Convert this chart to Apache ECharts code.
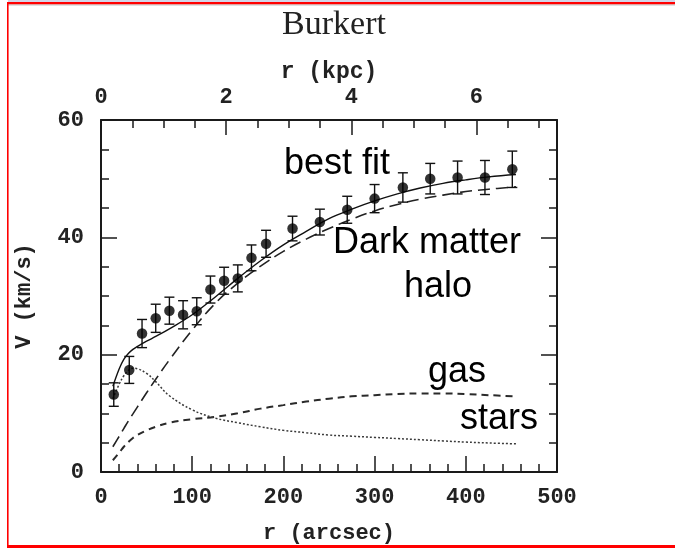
<!DOCTYPE html>
<html>
<head>
<meta charset="utf-8">
<script src="https://cdn.jsdelivr.net/npm/echarts@6/dist/echarts.min.js"></script>
<style>
  html, body { margin: 0; padding: 0; background: #fff; }
  #chart { width: 675px; height: 548px; }
</style>
</head>
<body>
<div id="chart"></div>
<script>
// Observed rotation curve: radius (arcsec), velocity (km/s), 1-sigma error
const obsRadius   = [14, 31, 45, 60, 75, 90, 105, 120, 135, 150, 165, 181, 210, 240, 270, 300, 331, 361, 391, 421, 451];
const obsVelocity = [13.2, 17.4, 23.6, 26.2, 27.5, 26.8, 27.4, 31.1, 32.6, 33.0, 36.5, 38.9, 41.5, 42.6, 44.7, 46.6, 48.5, 50.0, 50.2, 50.2, 51.6];
const obsError    = [2.0, 2.3, 2.4, 2.4, 2.3, 2.4, 2.3, 2.3, 2.3, 2.3, 2.2, 2.3, 2.1, 2.2, 2.3, 2.4, 2.5, 2.6, 2.8, 2.9, 3.1];

// Mass-model components on a common radius grid (arcsec)
const modelRadius = [13, 20, 25, 30, 35, 40, 50, 60, 75, 100, 125, 150, 175, 200, 225, 250, 275, 300, 325, 350, 375, 400, 425, 455];
const bestFit     = [14.6, 17.6, 19.2, 20.2, 20.9, 21.4, 22.3, 23.1, 24.4, 26.8, 29.8, 33.0, 36.0, 38.7, 41.0, 43.2, 44.8, 46.2, 47.4, 48.4, 49.2, 49.8, 50.3, 50.7];
const haloCurve   = [4.3, 6.1, 7.4, 8.7, 9.9, 11.1, 13.5, 15.8, 19.1, 24.2, 28.7, 32.2, 35.1, 37.6, 39.7, 41.5, 43.1, 44.5, 45.6, 46.5, 47.2, 47.8, 48.2, 48.6];
const gasCurve    = [2.0, 3.3, 4.3, 5.1, 5.8, 6.3, 7.1, 7.7, 8.4, 9.0, 9.4, 10.0, 10.8, 11.4, 12.0, 12.5, 12.9, 13.1, 13.3, 13.4, 13.4, 13.3, 13.1, 12.9];
const starsCurve  = [12.5, 15.0, 16.4, 17.3, 17.7, 17.6, 16.8, 15.4, 13.0, 10.6, 9.2, 8.4, 7.7, 7.1, 6.7, 6.3, 6.1, 5.9, 5.7, 5.5, 5.3, 5.1, 4.95, 4.8];

// Axis ranges and scale conversion
const xRange = [0, 500];
const yRange = [0, 60];
const arcsecPerKpc = 68.6;

const ink = '#1a1a1a';
const tickFont = { fontFamily: 'Liberation Mono', fontWeight: 'bold', fontSize: 22, color: '#222' };
const pairs = (xs, ys) => xs.map((x, i) => [x, ys[i]]);

const chart = echarts.init(document.getElementById('chart'), null, { renderer: 'canvas' });

const frameAxis = (extra) => Object.assign({
  type: 'value',
  splitLine: { show: false },
  axisLine: { show: true, onZero: false, lineStyle: { color: ink, width: 2 } },
  axisTick: { show: true, inside: true, length: 16, lineStyle: { color: ink, width: 1.5 } },
}, extra);

const option = {
  backgroundColor: '#fff',
  animation: false,
  grid: { left: 101, right: 118, top: 120, bottom: 76, containLabel: false, outerBoundsMode: 'none' },
  xAxis: [
    frameAxis({
      position: 'bottom', min: xRange[0], max: xRange[1], interval: 100,
      minorTick: { show: true, splitNumber: 5, length: 8, lineStyle: { color: ink, width: 1.5 } },
      axisLabel: Object.assign({ margin: 14 }, tickFont)
    }),
    frameAxis({
      position: 'top', min: 0, max: xRange[1] / arcsecPerKpc, interval: 2,
      axisTick: { show: true, inside: true, length: 15, lineStyle: { color: ink, width: 1.5 } },
      axisLabel: Object.assign({ margin: 12, showMaxLabel: false }, tickFont)
    }),
    frameAxis({
      position: 'top', min: 0, max: xRange[1] / arcsecPerKpc, interval: 0.5,
      axisLine: { show: false, onZero: false },
      axisTick: { show: true, inside: true, length: 8, lineStyle: { color: ink, width: 1.5 } },
      axisLabel: { show: false }
    })
  ],
  yAxis: [
    frameAxis({
      position: 'left', min: yRange[0], max: yRange[1], interval: 20,
      minorTick: { show: true, splitNumber: 4, length: 8, lineStyle: { color: ink, width: 1.5 } },
      axisLabel: Object.assign({ margin: 17 }, tickFont)
    }),
    frameAxis({
      position: 'right', min: yRange[0], max: yRange[1], interval: 20,
      minorTick: { show: true, splitNumber: 4, length: 8, lineStyle: { color: ink, width: 1.5 } },
      axisLabel: { show: false }
    })
  ],
  series: [
    {
      name: 'halo', type: 'line', data: pairs(modelRadius, haloCurve),
      smooth: 0.4, showSymbol: false, z: 2,
      lineStyle: { color: '#222', width: 1.6, type: [12, 6] }
    },
    {
      name: 'gas', type: 'line', data: pairs(modelRadius, gasCurve),
      smooth: 0.4, showSymbol: false, z: 2,
      lineStyle: { color: '#2a2a2a', width: 2, type: [7, 5] }
    },
    {
      name: 'stars', type: 'line', data: pairs(modelRadius, starsCurve),
      smooth: 0.4, showSymbol: false, z: 2,
      lineStyle: { color: '#3a3a3a', width: 1.5, type: [2, 2] }
    },
    {
      name: 'best fit', type: 'line', data: pairs(modelRadius, bestFit),
      smooth: 0.4, showSymbol: false, z: 3,
      lineStyle: { color: '#111', width: 1.4, type: 'solid' }
    },
    {
      name: 'error', type: 'custom', z: 4,
      data: obsRadius.map((r, i) => [r, obsVelocity[i], obsError[i]]),
      renderItem: function (params, api) {
        const x = api.value(0), v = api.value(1), e = api.value(2);
        const hi = api.coord([x, v + e]);
        const lo = api.coord([x, v - e]);
        const cap = 5;
        const style = { stroke: '#111', lineWidth: 1.4 };
        return {
          type: 'group',
          children: [
            { type: 'line', shape: { x1: hi[0], y1: hi[1], x2: lo[0], y2: lo[1] }, style },
            { type: 'line', shape: { x1: hi[0] - cap, y1: hi[1], x2: hi[0] + cap, y2: hi[1] }, style },
            { type: 'line', shape: { x1: lo[0] - cap, y1: lo[1], x2: lo[0] + cap, y2: lo[1] }, style }
          ]
        };
      }
    },
    {
      name: 'observed', type: 'scatter', z: 5,
      data: pairs(obsRadius, obsVelocity),
      symbol: 'circle', symbolSize: 10.5,
      itemStyle: { color: '#000' }
    }
  ],
  graphic: [
    // page frame
    { type: 'rect', z: 100, shape: { x: 8, y: 0, width: 667, height: 2 }, style: { fill: '#d3d5e8' } },
    { type: 'rect', z: 100, shape: { x: 8, y: 2, width: 667, height: 2.5 }, style: { fill: '#ff0000' } },
    { type: 'rect', z: 100, shape: { x: 8, y: 4.5, width: 667, height: 1 }, style: { fill: '#c4c4c4' } },
    { type: 'rect', z: 100, shape: { x: 7, y: 2, width: 1.6, height: 546 }, style: { fill: '#ff0000' } },
    { type: 'rect', z: 100, shape: { x: 7, y: 545, width: 668, height: 3 }, style: { fill: '#ff0000' } },
    // titles
    { type: 'text', z: 50, style: { text: 'Burkert', x: 334, y: 25, align: 'center', verticalAlign: 'middle',
      font: '34px "Liberation Serif"', fill: '#222' } },
    { type: 'text', z: 50, style: { text: 'r (kpc)', x: 329, y: 72, align: 'center', verticalAlign: 'middle',
      font: 'bold 23px "Liberation Mono"', fill: '#222' } },
    { type: 'text', z: 50, style: { text: 'r (arcsec)', x: 329, y: 533, align: 'center', verticalAlign: 'middle',
      font: 'bold 22px "Liberation Mono"', fill: '#222' } },
    { type: 'text', z: 50, x: 24, y: 296, rotation: Math.PI / 2,
      style: { text: 'V (km/s)', x: 0, y: 0, align: 'center', verticalAlign: 'middle',
      font: 'bold 22px "Liberation Mono"', fill: '#222' } },
    // component labels
    { type: 'text', z: 50, style: { text: 'best fit', x: 284, y: 164, align: 'left', verticalAlign: 'middle',
      font: '36px "Liberation Sans"', fill: '#000' } },
    { type: 'text', z: 50, style: { text: 'Dark matter', x: 333, y: 243, align: 'left', verticalAlign: 'middle',
      font: '36px "Liberation Sans"', fill: '#000' } },
    { type: 'text', z: 50, style: { text: 'halo', x: 404, y: 287, align: 'left', verticalAlign: 'middle',
      font: '36px "Liberation Sans"', fill: '#000' } },
    { type: 'text', z: 50, style: { text: 'gas', x: 428, y: 372, align: 'left', verticalAlign: 'middle',
      font: '36px "Liberation Sans"', fill: '#000' } },
    { type: 'text', z: 50, style: { text: 'stars', x: 460, y: 419, align: 'left', verticalAlign: 'middle',
      font: '36px "Liberation Sans"', fill: '#000' } }
  ]
};

chart.setOption(option);
</script>
</body>
</html>
